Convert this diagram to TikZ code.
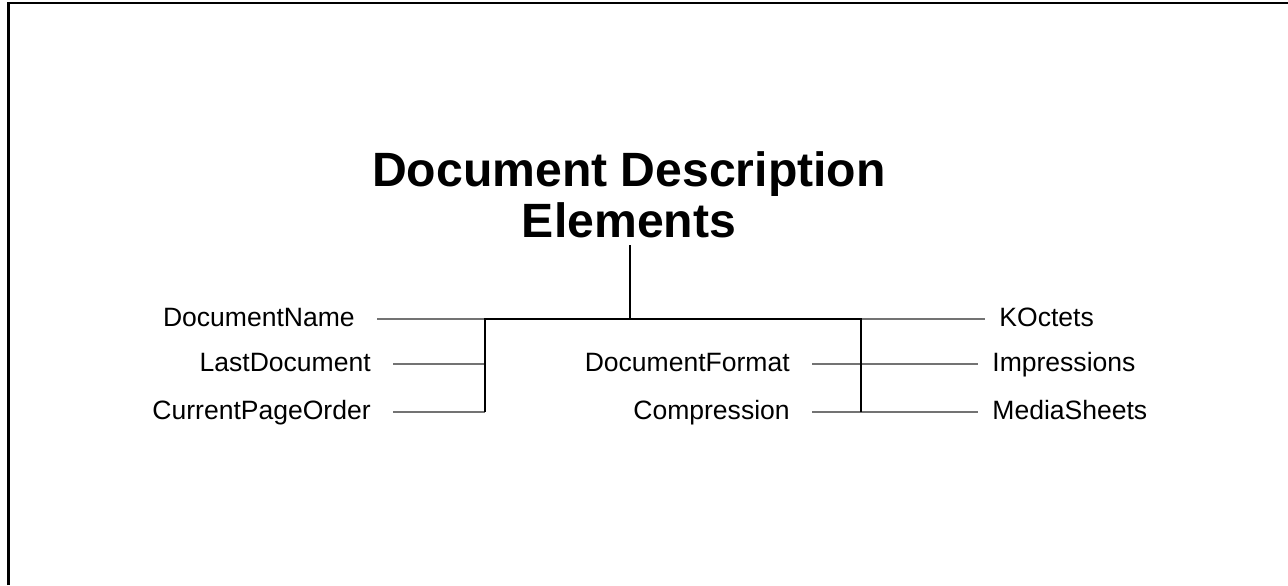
\documentclass[tikz,border=0pt]{standalone}
\usepackage{fontspec}
\setmainfont{Liberation Sans}
\usepackage{tikz}
\usetikzlibrary{positioning}

\begin{document}
\begin{tikzpicture}[
    x=0.02cm, y=-0.02cm,
    title/.style={font=\fontsize{27.4}{29}\selectfont\bfseries,
                  align=center, inner sep=0pt},
    leaf/.style={font=\fontsize{15.1}{18}\selectfont,
                 text height=10.8pt, text depth=1.8pt,
                 inner ysep=0pt, inner xsep=12.5pt},
    rleaf/.style={leaf, inner xsep=8pt},
    trunk/.style={line width=1.1pt, color=black},
    twig/.style={line width=0.8pt, color=black!55},
  ]
  \useasboundingbox (0,0) rectangle (1288,585);
  \draw[line width=1.7pt] (8.5,585) -- (8.5,3) -- (1288,3);

  \node[title] (title) at (629,195) {Document Description\\Elements};

  % left group
  \node[leaf, anchor=east] (dname) at (377,319) {DocumentName};
  \node[leaf, anchor=east] (ldoc)  at (393,364) {LastDocument};
  \node[leaf, anchor=east] (cpo)   at (393,412) {CurrentPageOrder};

  % middle and right group
  \node[leaf, anchor=east]  (dfmt)  at (812,364) {DocumentFormat};
  \node[leaf, anchor=east]  (comp)  at (812,412) {Compression};
  \node[rleaf, anchor=west] (koct)  at (985,319) {KOctets};
  \node[rleaf, anchor=west] (impr)  at (978,364) {Impressions};
  \node[rleaf, anchor=west] (media) at (978,412) {MediaSheets};

  \coordinate (stem) at (630,245);
  \coordinate (hub)  at (630,319);
  \coordinate (lj)   at (485,319);
  \coordinate (rj)   at (861,319);

  \draw[twig] (dname.east) -- (lj);
  \draw[twig] (ldoc.east)  -- (ldoc.east -| lj);
  \draw[twig] (cpo.east)   -- (cpo.east -| lj);
  \draw[twig] (rj)         -- (koct.west);
  \draw[twig] (dfmt.east)  -- (impr.west);
  \draw[twig] (comp.east)  -- (media.west);

  \draw[trunk] (stem) -- (hub);
  \draw[trunk] (cpo.east -| lj) -- (lj) -- (rj) -- (rj |- media.west);
\end{tikzpicture}
\end{document}
